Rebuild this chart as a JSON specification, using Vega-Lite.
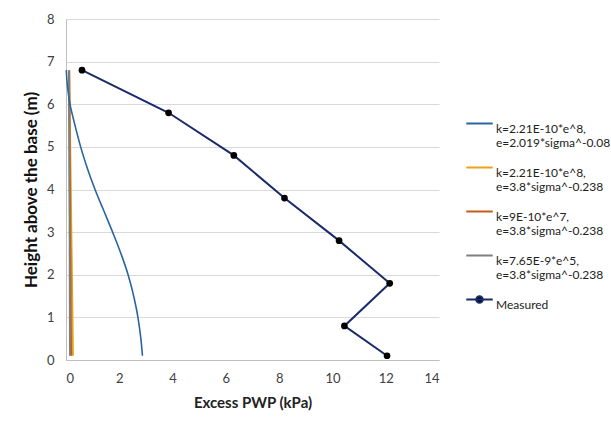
{
  "$schema": "https://vega.github.io/schema/vega-lite/v6.json",
  "width": 373,
  "height": 341,
  "autosize": "none",
  "padding": {"left": 66, "top": 19, "right": 172, "bottom": 77},
  "background": "white",
  "config": {
    "font": "Lato",
    "view": {"stroke": null},
    "axis": {"labelFont": "Lato", "titleFont": "Lato", "labelColor": "#404040", "labelFontSize": 13, "titleColor": "#222222", "domainColor": "#BFBFBF", "gridColor": "#D9D9D9", "ticks": false}
  },
  "data": {
    "values": [
      {"series": "k=2.21E-10*e^8,|e=2.019*sigma^-0.08", "i": 1, "x": 0.01, "y": 6.8},
      {"series": "k=2.21E-10*e^8,|e=2.019*sigma^-0.08", "i": 2, "x": 0.03, "y": 6.6},
      {"series": "k=2.21E-10*e^8,|e=2.019*sigma^-0.08", "i": 3, "x": 0.06, "y": 6.4},
      {"series": "k=2.21E-10*e^8,|e=2.019*sigma^-0.08", "i": 4, "x": 0.1, "y": 6.2},
      {"series": "k=2.21E-10*e^8,|e=2.019*sigma^-0.08", "i": 5, "x": 0.15, "y": 6.0},
      {"series": "k=2.21E-10*e^8,|e=2.019*sigma^-0.08", "i": 6, "x": 0.24, "y": 5.75},
      {"series": "k=2.21E-10*e^8,|e=2.019*sigma^-0.08", "i": 7, "x": 0.34, "y": 5.5},
      {"series": "k=2.21E-10*e^8,|e=2.019*sigma^-0.08", "i": 8, "x": 0.55, "y": 5.0},
      {"series": "k=2.21E-10*e^8,|e=2.019*sigma^-0.08", "i": 9, "x": 0.8, "y": 4.5},
      {"series": "k=2.21E-10*e^8,|e=2.019*sigma^-0.08", "i": 10, "x": 1.09, "y": 4.0},
      {"series": "k=2.21E-10*e^8,|e=2.019*sigma^-0.08", "i": 11, "x": 1.42, "y": 3.5},
      {"series": "k=2.21E-10*e^8,|e=2.019*sigma^-0.08", "i": 12, "x": 1.75, "y": 3.0},
      {"series": "k=2.21E-10*e^8,|e=2.019*sigma^-0.08", "i": 13, "x": 2.06, "y": 2.5},
      {"series": "k=2.21E-10*e^8,|e=2.019*sigma^-0.08", "i": 14, "x": 2.33, "y": 2.0},
      {"series": "k=2.21E-10*e^8,|e=2.019*sigma^-0.08", "i": 15, "x": 2.54, "y": 1.5},
      {"series": "k=2.21E-10*e^8,|e=2.019*sigma^-0.08", "i": 16, "x": 2.7, "y": 1.0},
      {"series": "k=2.21E-10*e^8,|e=2.019*sigma^-0.08", "i": 17, "x": 2.81, "y": 0.5},
      {"series": "k=2.21E-10*e^8,|e=2.019*sigma^-0.08", "i": 18, "x": 2.87, "y": 0.1},
      {"series": "k=2.21E-10*e^8,|e=3.8*sigma^-0.238", "i": 1, "x": 0.12, "y": 6.8},
      {"series": "k=2.21E-10*e^8,|e=3.8*sigma^-0.238", "i": 2, "x": 0.26, "y": 0.1},
      {"series": "k=9E-10*e^7,|e=3.8*sigma^-0.238", "i": 1, "x": 0.11, "y": 6.8},
      {"series": "k=9E-10*e^7,|e=3.8*sigma^-0.238", "i": 2, "x": 0.19, "y": 0.1},
      {"series": "k=7.65E-9*e^5,|e=3.8*sigma^-0.238", "i": 1, "x": 0.12, "y": 6.8},
      {"series": "k=7.65E-9*e^5,|e=3.8*sigma^-0.238", "i": 2, "x": 0.15, "y": 0.1},
      {"series": "Measured", "i": 1, "x": 0.6, "y": 6.8},
      {"series": "Measured", "i": 2, "x": 3.85, "y": 5.8},
      {"series": "Measured", "i": 3, "x": 6.3, "y": 4.8},
      {"series": "Measured", "i": 4, "x": 8.2, "y": 3.8},
      {"series": "Measured", "i": 5, "x": 10.25, "y": 2.8},
      {"series": "Measured", "i": 6, "x": 12.15, "y": 1.8},
      {"series": "Measured", "i": 7, "x": 10.45, "y": 0.8},
      {"series": "Measured", "i": 8, "x": 12.05, "y": 0.1}
    ]
  },
  "encoding": {
    "x": {"field": "x", "type": "quantitative", "scale": {"domain": [0, 14], "nice": false},
      "axis": {"title": "Excess PWP (kPa)", "values": [0, 2, 4, 6, 8, 10, 12, 14], "grid": false, "labelPadding": 12, "titleFontSize": 15, "titleFontWeight": "bold", "titlePadding": 10}},
    "y": {"field": "y", "type": "quantitative", "scale": {"domain": [0, 8], "nice": false},
      "axis": {"title": "Height above the base (m)", "values": [0, 1, 2, 3, 4, 5, 6, 7, 8], "grid": true, "labelPadding": 12, "titleFontSize": 17, "titleFontWeight": "bold", "titlePadding": 6, "titleColor": "#111111"}},
    "color": {"field": "series", "type": "nominal",
      "scale": {
        "domain": ["k=2.21E-10*e^8,|e=2.019*sigma^-0.08", "k=2.21E-10*e^8,|e=3.8*sigma^-0.238", "k=9E-10*e^7,|e=3.8*sigma^-0.238", "k=7.65E-9*e^5,|e=3.8*sigma^-0.238", "Measured"],
        "range": ["#2A65A0", "#E8A317", "#C55A11", "#7F7F7F", "#1B2A6B"]
      },
      "legend": {
        "title": null,
        "orient": "none",
        "legendX": 399,
        "legendY": 90,
        "labelExpr": "split(datum.label, '|')",
        "labelFont": "Lato",
        "labelFontSize": 12,
        "labelColor": "#222222",
        "labelLimit": 200,
        "labelBaseline": "top",
        "labelOffset": 2,
        "symbolType": "stroke",
        "symbolSize": 700,
        "symbolStrokeWidth": 2,
        "rowPadding": 4,
        "encode": {
          "symbols": {"update": {
            "shape": {"signal": "datum.value === 'Measured' ? 'M-1,0H1M-0.25,0a0.25,0.25 0 1,0 0.5,0a0.25,0.25 0 1,0 -0.5,0' : 'stroke'"},
            "fill": {"signal": "datum.value === 'Measured' ? 'black' : 'transparent'"}
          }}
        }
      }
    },
    "order": {"field": "i", "type": "quantitative"}
  },
  "layer": [
    {
      "transform": [{"filter": "datum.series !== 'k=2.21E-10*e^8,|e=2.019*sigma^-0.08'"}],
      "mark": {"type": "line", "strokeWidth": 2}
    },
    {
      "transform": [{"filter": "datum.series === 'k=2.21E-10*e^8,|e=2.019*sigma^-0.08'"}],
      "mark": {"type": "line", "strokeWidth": 1.6, "interpolate": "monotone"}
    },
    {
      "transform": [{"filter": "datum.series === 'Measured'"}],
      "mark": {"type": "point", "filled": true, "size": 45, "opacity": 1},
      "encoding": {"color": {"value": "black"}}
    }
  ]
}
